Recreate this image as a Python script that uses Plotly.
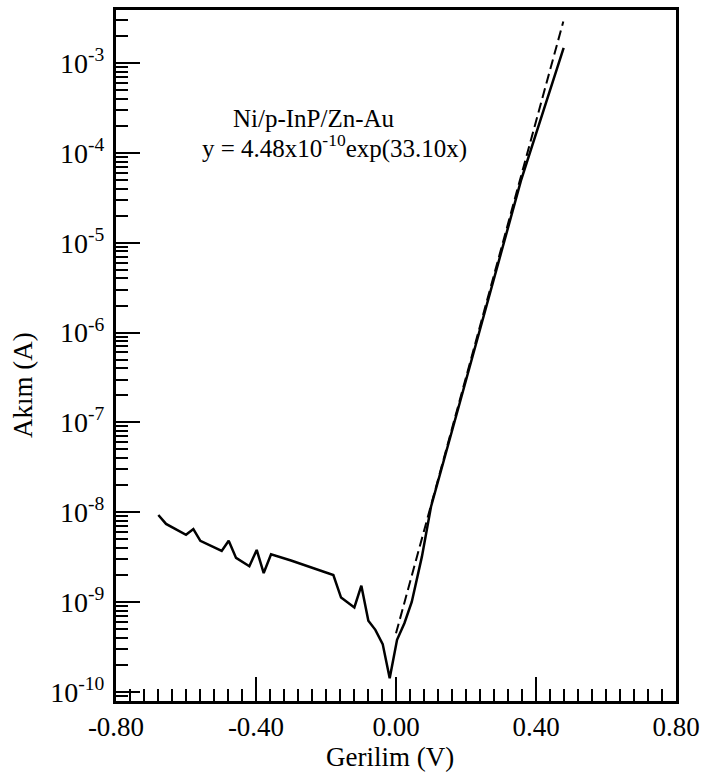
import plotly.graph_objects as go

# ---- data ----
voltage = [-0.679, -0.657, -0.600, -0.579, -0.559, -0.498, -0.478, -0.457, -0.419,
           -0.398, -0.378, -0.357, -0.300, -0.179, -0.157, -0.119, -0.099, -0.079,
           -0.059, -0.038, -0.018, 0.003, 0.024, 0.045, 0.074, 0.100, 0.184, 0.250,
           0.357, 0.479]
current = [9.3e-9, 7.4e-9, 5.6e-9, 6.5e-9, 4.8e-9, 3.7e-9, 4.8e-9, 3.1e-9, 2.5e-9,
           3.8e-9, 2.1e-9, 3.4e-9, 2.9e-9, 2.0e-9, 1.12e-9, 8.7e-10, 1.52e-9, 6.2e-10,
           4.9e-10, 3.4e-10, 1.42e-10, 3.8e-10, 5.8e-10, 1.0e-9, 3.2e-9, 1.15e-8,
           1.75e-7, 1.5e-6, 4.9e-5, 1.48e-3]

fit_voltage = [0.0, 0.478]
fit_current = [4.48e-10, 2.9e-3]

x_tickvals = [-0.8, -0.4, 0.0, 0.4, 0.8]
x_ticktext = ["-0.80", "-0.40", "0.00", "0.40", "0.80"]
y_exponents = [-10, -9, -8, -7, -6, -5, -4, -3]

label_line1 = "Ni/p-InP/Zn-Au"
label_line2 = "y = 4.48x10<sup>-10</sup>exp(33.10x)"
x_title = "Gerilim (V)"
y_title = "Akım (A)"

# ---- figure ----
FONT = "Liberation Serif, Times New Roman, serif"
W, H = 703, 780
# plot box in page pixels: left 116, right 676, top 10, bottom 701
ML, MT, MR, MB = 116, 10, W - 676, H - 701

y_tickvals = [10.0 ** e for e in y_exponents]
y_ticktext = ["10<sup>%d</sup>" % e for e in y_exponents]
y_minor = [m * 10.0 ** e for e in range(-11, -2) for m in range(2, 10)]

fig = go.Figure()
fig.add_trace(go.Scatter(x=voltage, y=current, mode="lines",
                         line=dict(color="black", width=2.5), showlegend=False))
fig.add_trace(go.Scatter(x=fit_voltage, y=fit_current, mode="lines",
                         line=dict(color="black", width=2, dash="10px,5px"),
                         showlegend=False))

fig.update_layout(
    width=W, height=H,
    margin=dict(l=ML, r=MR, t=MT, b=MB, autoexpand=False),
    paper_bgcolor="white", plot_bgcolor="white",
    font=dict(family=FONT, size=27, color="black"),
    showlegend=False,
)
fig.update_xaxes(
    range=[-0.8, 0.8], tickmode="array", tickvals=x_tickvals, ticktext=x_ticktext,
    ticks="inside", ticklen=24, tickwidth=2, tickcolor="black",
    showline=True, linewidth=3, linecolor="black", mirror=True,
    showgrid=False, zeroline=False, automargin=False,
    tickfont=dict(family=FONT, size=27),
    ticklabelstandoff=0,
    minor=dict(dtick=0.04, ticks="inside", ticklen=12, tickwidth=2,
               tickcolor="black", showgrid=False),
)
fig.update_yaxes(
    type="log", range=[-10.102, -2.409], tickmode="array",
    tickvals=y_tickvals, ticktext=y_ticktext,
    ticks="inside", ticklen=24, tickwidth=2, tickcolor="black",
    showline=True, linewidth=3, linecolor="black", mirror=True,
    showgrid=False, zeroline=False, automargin=False,
    tickfont=dict(family=FONT, size=28),
    ticklabelstandoff=3,
    minor=dict(tickmode="array", tickvals=y_minor, ticks="inside", ticklen=12,
               tickwidth=2, tickcolor="black", showgrid=False),
)

# axis titles and inset text (positions given in page pixels)
pw, ph = 676 - 116, 701 - 10
def px(xp):
    return (xp - 116) / pw
def py(yp):
    return (701 - yp) / ph

def note(text, x, y, size, angle=0):
    fig.add_annotation(text=text, xref="paper", yref="paper", x=px(x), y=py(y),
                       xanchor="center", yanchor="middle", textangle=angle,
                       showarrow=False, font=dict(family=FONT, size=size))

note(x_title, 390, 757, 27)
note(y_title, 23, 385, 27, angle=-90)
note(label_line1, 314, 118, 25)
note(label_line2, 334, 147, 25)

fig.write_html("out.html",
               config={"displayModeBar": False},
               post_script="document.body.style.margin='0';"
                           "document.body.style.overflow='hidden';")
